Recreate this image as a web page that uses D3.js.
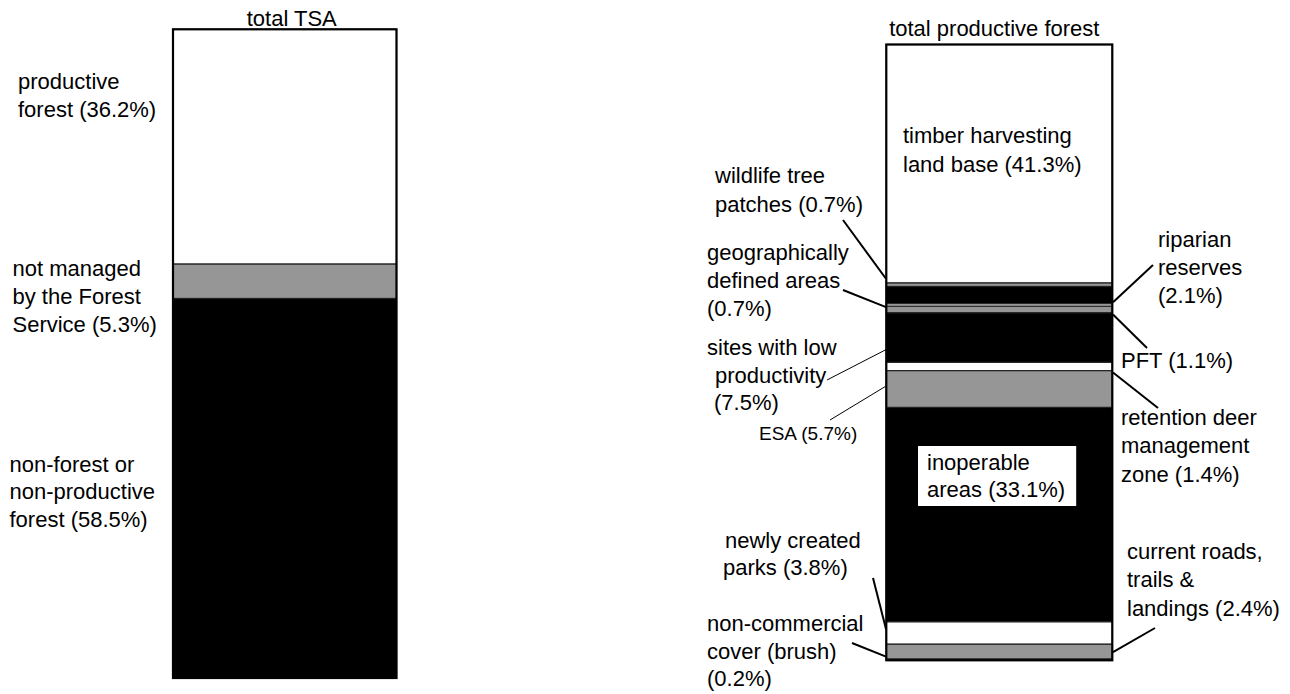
<!DOCTYPE html>
<html>
<head>
<meta charset="utf-8">
<script src="https://cdn.jsdelivr.net/npm/d3@7"></script>
<style>
  html, body { margin: 0; padding: 0; background: #fff; }
  svg text { font-family: "Liberation Sans", Arial, sans-serif; fill: #000; }
</style>
</head>
<body>
<svg id="chart" width="1290" height="694"></svg>
<script>
// ---------- DATA ----------
// Left bar: total TSA
const leftCategories = ["productive forest", "not managed by the Forest Service", "non-forest or non-productive forest"];
const leftValues = [36.2, 5.3, 58.5];
const leftFills = ["white", "grey", "black"];
const leftLabels = [
  ["productive", "forest (36.2%)"],
  ["not managed", "by the Forest", "Service (5.3%)"],
  ["non-forest or", "non-productive", "forest (58.5%)"]
];

// Right bar: total productive forest (top to bottom)
const rightCategories = ["timber harvesting land base", "wildlife tree patches", "riparian reserves",
  "geographically defined areas", "PFT", "sites with low productivity", "retention deer management zone",
  "ESA", "inoperable areas", "newly created parks", "current roads, trails & landings", "non-commercial cover (brush)"];
const rightPercents = [41.3, 0.7, 2.1, 0.7, 1.1, 7.5, 1.4, 5.7, 33.1, 3.8, 2.4, 0.2];
// segment shares as drawn in the picture (share of bar height)
const rightShares = [38.65, 0.57, 2.81, 0.39, 1.07, 8.02, 1.35, 5.96, 34.75, 3.62, 2.4, 0.2];
const rightFills = ["white", "grey", "black", "white", "grey", "black", "white", "grey", "black", "white", "grey", "grey"];
const rightLabels = [
  ["timber harvesting", "land base (41.3%)"],
  ["wildlife tree", "patches (0.7%)"],
  ["riparian", "reserves", "(2.1%)"],
  ["geographically", "defined areas", "(0.7%)"],
  ["PFT (1.1%)"],
  ["sites with low", "productivity", "(7.5%)"],
  ["retention deer", "management", "zone (1.4%)"],
  ["ESA (5.7%)"],
  ["inoperable", "areas (33.1%)"],
  ["newly created", "parks (3.8%)"],
  ["current roads,", "trails &", "landings (2.4%)"],
  ["non-commercial", "cover (brush)", "(0.2%)"]
];
const barTitles = ["total TSA", "total productive forest"];

// ---------- LAYOUT ----------
const colors = { white: "#ffffff", grey: "#969696", black: "#000000" };
const svg = d3.select("#chart");
const FS = 22;

function stack(values) {
  let c = 0;
  return values.map(v => { const s = c; c += v; return [s, c]; });
}

function drawBar(cfg) {
  const total = d3.sum(cfg.values);
  const y = d3.scaleLinear().domain([0, total]).range([cfg.top, cfg.bottom]);
  const st = stack(cfg.values);
  const g = svg.append("g");
  g.selectAll("rect.seg").data(st).join("rect")
    .attr("class", "seg")
    .attr("x", cfg.x0).attr("width", cfg.x1 - cfg.x0)
    .attr("y", d => y(d[0])).attr("height", d => y(d[1]) - y(d[0]))
    .attr("fill", (d, i) => colors[cfg.fills[i]])
    .attr("stroke", "#222").attr("stroke-width", 1.2);
  g.append("rect")
    .attr("x", cfg.x0).attr("y", cfg.top)
    .attr("width", cfg.x1 - cfg.x0).attr("height", cfg.bottom - cfg.top)
    .attr("fill", "none").attr("stroke", "#000").attr("stroke-width", 2.2);
  svg.append("text")
    .attr("x", (cfg.x0 + cfg.x1) / 2 + cfg.titleDx).attr("y", cfg.titleY)
    .attr("text-anchor", "middle").attr("font-size", FS)
    .text(cfg.title);
  return { y, st };
}

function drawLabel(lines, x, baselines, size, bg) {
  const t = svg.append("text").attr("font-size", size || FS);
  lines.forEach((ln, k) => {
    t.append("tspan").attr("x", Array.isArray(x) ? x[k] : x).attr("y", baselines[k]).text(ln);
  });
  if (bg) {
    const bb = t.node().getBBox();
    svg.insert("rect", () => t.node())
      .attr("x", bb.x - 9).attr("y", bb.y - 4)
      .attr("width", bb.width + 20).attr("height", bb.height + 8)
      .attr("fill", "#fff");
  }
  return t;
}

// Left bar
const L = drawBar({ values: leftValues, fills: leftFills, x0: 173, x1: 396.5, top: 29.3, bottom: 678, title: barTitles[0], titleY: 26, titleDx: 7 });
const leftLayout = [
  { x: 18, b: [89, 117] },
  { x: 12.5, b: [276, 303.5, 331.5] },
  { x: 9.5, b: [471.5, 499, 526.5] }
];
leftLabels.forEach((lines, i) => drawLabel(lines, leftLayout[i].x, leftLayout[i].b));

// Right bar
const R = drawBar({ values: rightShares, fills: rightFills, x0: 886.3, x1: 1112.3, top: 44.5, bottom: 660.3, title: barTitles[1], titleY: 36, titleDx: -5 });

// label layout: x, baselines, leader (side, dy offset from segment mid, label end point)
const rightLayout = [
  { x: 903, b: [143, 172] },
  { x: 715, b: [183, 212], side: "L", dy: -6, end: [843, 220], w: 2 },
  { x: 1158, b: [247, 275, 303], side: "R", dy: 7, end: [1153, 265], w: 2 },
  { x: 707, b: [260, 288, 316], side: "L", dy: 2, end: [843, 290], w: 2 },
  { x: 1121, b: [368], side: "R", dy: 5, end: [1147, 348], w: 2 },
  { x: [707, 715, 714], b: [355, 383, 410], side: "L", dy: 12, end: [827, 380], w: 1 },
  { x: 1121, b: [425, 453, 482], side: "R", dy: 6, end: [1158, 408], w: 2 },
  { x: 759, b: [440], size: 19, side: "L", dy: -3, end: [830, 420], w: 1 },
  { x: 927, b: [470, 497], bg: true },
  { x: [725, 723], b: [548, 575], side: "L", dy: -4, end: [873, 578], w: 2 },
  { x: 1127, b: [559, 587, 616], side: "R", dy: 0.5, end: [1155, 628], w: 2 },
  { x: 707, b: [631, 659, 686], side: "L", dy: -3, end: [852, 643], w: 2 }
];

rightLabels.forEach((lines, i) => {
  const lay = rightLayout[i];
  drawLabel(lines, lay.x, lay.b, lay.size, lay.bg);
  if (lay.side) {
    const seg = R.st[i];
    const ym = (R.y(seg[0]) + R.y(seg[1])) / 2 + lay.dy;
    const xb = lay.side === "L" ? 886 : 1113;
    svg.append("line")
      .attr("x1", lay.end[0]).attr("y1", lay.end[1])
      .attr("x2", xb).attr("y2", ym)
      .attr("stroke", "#000").attr("stroke-width", lay.w);
  }
});
</script>
</body>
</html>
